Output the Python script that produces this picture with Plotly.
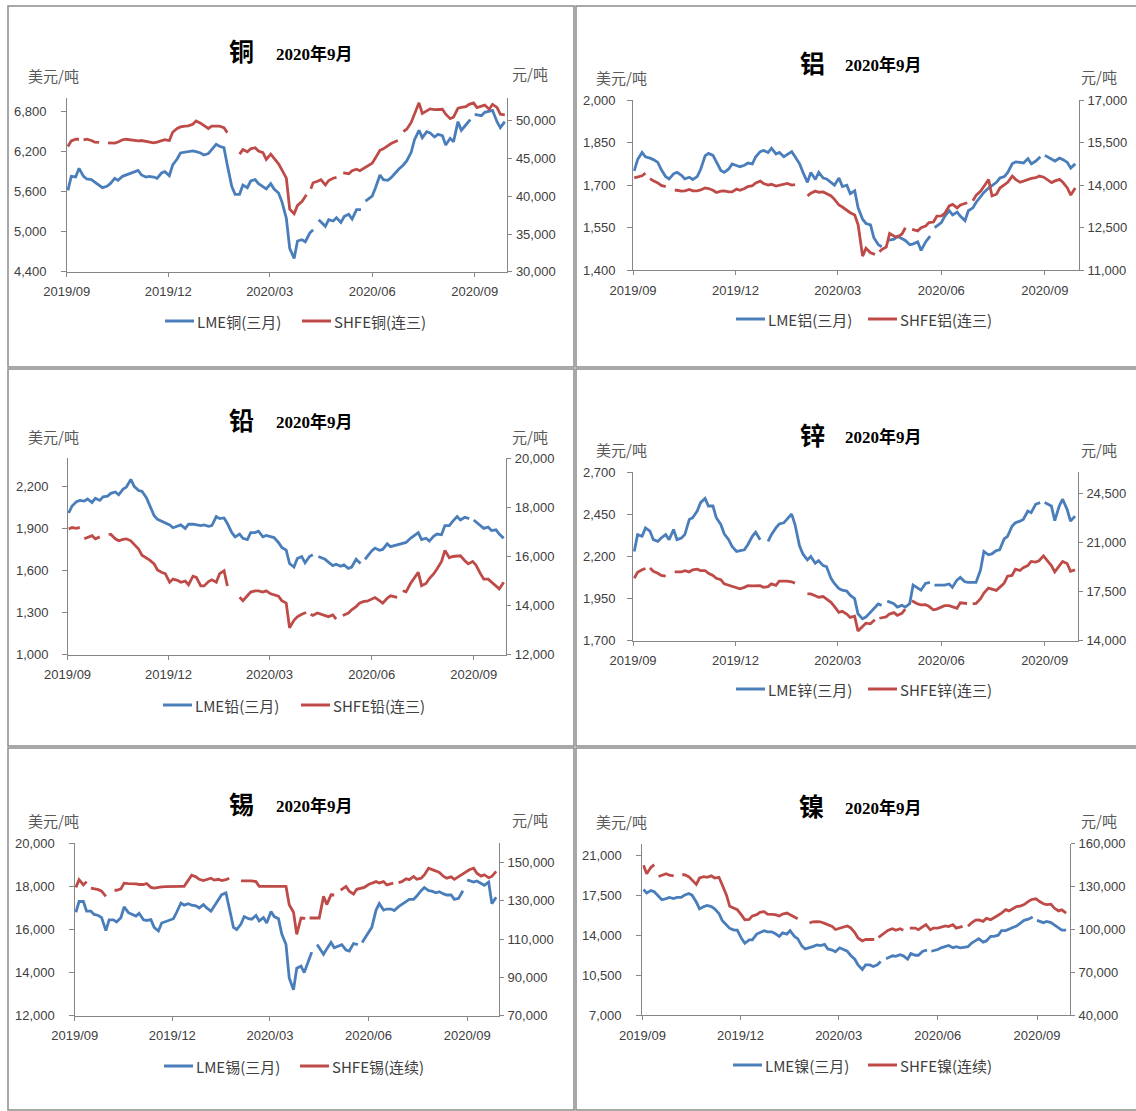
import plotly.graph_objects as go

W, H = 1136, 1111
N = None


def month(y, m, days):
    return [f"{y}-{m:02d}-{d:02d}" for d in days]


# ---------------- categories (twice-weekly sampling dates, holidays shown as gaps) ----------------
COMMON_NOV_MAR = (
    month(2019, 11, (4, 7, 11, 14, 18, 21, 25, 28))
    + month(2019, 12, (2, 5, 9, 12, 16, 19, 23, 26, 30))
    + month(2020, 1, (2, 6, 9, 13, 16, 20, 23, 27, 30))
    + month(2020, 2, (3, 6, 10, 13, 17, 20, 24, 27))
    + month(2020, 3, (2, 5, 9, 12, 16, 19, 23, 26, 30))
)
LME_DATES = (
    month(2019, 9, (2, 5, 9, 12, 16, 19, 23, 26, 30))
    + month(2019, 10, (3, 7, 10, 14, 17, 21, 24, 28, 31))
    + COMMON_NOV_MAR
    + month(2020, 4, (2, 6, 9, 10, 14, 20, 23, 27, 30))
    + month(2020, 5, (4, 7, 11, 14, 18, 22, 25, 26))
    + month(2020, 6, (1, 4, 8, 11, 15, 18, 22, 25, 29))
    + month(2020, 7, (2, 6, 9, 13, 16, 20, 23, 27, 30))
    + month(2020, 8, (3, 6, 10, 13, 17, 20, 24, 28, 31))
    + month(2020, 9, (1, 7, 10, 14, 17, 21, 24, 28))
)
SHFE_DATES = (
    month(2019, 9, (2, 5, 9, 12, 13, 16, 19, 23, 26, 30))
    + month(2019, 10, (1, 8, 10, 14, 17, 21, 24, 28, 31))
    + COMMON_NOV_MAR
    + month(2020, 4, (3, 6, 7, 9, 13, 16, 20, 23, 27, 30))
    + month(2020, 5, (1, 6, 11, 14, 18, 21, 25, 28))
    + month(2020, 6, (1, 4, 8, 11, 15, 18, 24, 25, 29))
    + month(2020, 7, (2, 6, 9, 13, 16, 20, 23, 27, 30))
    + month(2020, 8, (3, 6, 10, 13, 17, 20, 24, 27, 31))
    + month(2020, 9, (3, 7, 10, 14, 17, 21, 24, 28))
)

TICK_DATES = ["2019-09-01", "2019-12-01", "2020-03-01", "2020-06-01", "2020-09-01"]
TICK_TEXT = ["2019/09", "2019/12", "2020/03", "2020/06", "2020/09"]

# ---------------- copper ----------------
CU_LME = [
    5620, 5830, 5820, 5950, 5830, 5790, 5780, 5740, 5700,
    5660, 5680, 5720, 5800, 5770, 5830, 5850, 5880, 5890,
    5920, 5850, 5820, 5830, 5820, 5800, 5880, 5900,
    5840, 6000, 6090, 6180, 6190, 6200, 6210, 6200, 6180,
    6150, 6170, 6230, 6310, 6280, 6260, 6000, 5680, 5560,
    5560, 5700, 5660, 5760, 5780, 5720, 5680, 5640,
    5720, 5640, 5580, 5450, 5200, 4750, 4600, 4860, 4880,
    4850, 4980, 5030, N, 5180, 5080, 5180, 5160, 5210,
    5140, 5230, 5260, 5190, 5330, 5330, N, 5460,
    5535, 5660, 5850, 5780, 5770, 5810, 5890, 5940, 6000,
    6060, 6190, 6380, 6520, 6410, 6500, 6480, 6420, 6460,
    6440, 6300, 6400, 6350, 6650, 6520, 6600, 6680, N,
    6760, 6740, 6790, 6810, 6820, 6650, 6560, 6650,
]
CU_SHFE = [
    46600, 47350, 47570, 47570, N, 47500, 47570, 47400, 47200, 47150,
    N, 47100, 47100, 47050, 47200, 47500, 47570, 47500, 47400,
    47350, 47400, 47300, 47150, 47100, 47200, 47350, 47500,
    47400, 48500, 49000, 49200, 49300, 49350, 49560, 50000, 49700,
    49400, 49000, 49300, 49300, 49300, 49100, 48450, N, N,
    45600, 46200, 45900, 46300, 46450, 46000, 45800, 44900,
    45600, 45100, 44300, 43500, 42400, 38300, 37700, 38800, 39300,
    40200, N, 41000, 41800, 42000, 42200, 41500, 42100, 42400, 42500,
    N, 43100, 43000, 43400, 43600, 43400, 43800, 44000,
    44400, 45100, 46100, 46300, 46700, 47000, 47400, N, 48600,
    48900, 49800, 51000, 52400, 51000, 51300, 51600, 51500, 51500,
    51550, 50890, 50300, 50500, 51700, 51800, 51900, 52200, 52400,
    51770, 52000, 52100, 51550, 52200, 51800, 50890, 50800,
]

# ---------------- aluminium ----------------
AL_LME = [
    1750, 1790, 1815, 1800, 1795, 1790, 1780, 1755, 1730,
    1722, 1740, 1745, 1735, 1722, 1728, 1720, 1730, 1755,
    1803, 1812, 1805, 1780, 1752, 1745, 1757, 1775,
    1770, 1765, 1770, 1778, 1775, 1800, 1818, 1822, 1815,
    1830, 1810, 1815, 1800, 1808, 1818, 1800, 1775, 1745,
    1710, 1745, 1720, 1745, 1725, 1722, 1710, 1700,
    1725, 1695, 1700, 1670, 1680, 1620, 1580, 1565, 1560,
    1515, 1490, 1483, N, 1505, 1510, 1520, 1510, 1505,
    1490, 1493, 1500, 1470, 1500, 1520, N, 1550,
    1568, 1590, 1610, 1595, 1605, 1590, 1575, 1610, 1620,
    1640, 1660, 1675, 1690, 1700, 1710, 1725, 1730, 1745,
    1775, 1782, 1780, 1778, 1793, 1775, 1785, 1800, N,
    1805, 1790, 1785, 1795, 1790, 1780, 1760, 1775,
]
AL_SHFE = [
    14260, 14300, 14330, 14420, N, 14230, 14150, 14080, 13990, 13950,
    N, 13820, 13820, 13790, 13800, 13850, 13800, 13800, 13830,
    13900, 13880, 13820, 13740, 13790, 13800, 13760, 13760,
    13860, 13820, 13880, 13950, 13980, 14080, 14140, 14060, 14000,
    14030, 13970, 14000, 14020, 14060, 14000, 14020, N, N,
    13620, 13720, 13790, 13750, 13760, 13700, 13620, 13500,
    13300, 13230, 13100, 13030, 12950, 12600, 11500, 11780, 11620,
    11560, N, 11650, 11730, 11820, 12300, 12200, 12170, 12280, 12500,
    N, 12440, 12390, 12500, 12560, 12680, 12700, 12910,
    12920, 13000, 13270, 13320, 13200, 13300, 13380, N, 13450,
    13650, 13790, 13950, 14200, 13620, 13680, 13900, 14030, 14100,
    14320, 14205, 14100, 14150, 14205, 14240, 14264, 14320, 14280,
    14200, 14090, 14150, 14205, 14100, 13900, 13650, 13900,
]

# ---------------- lead ----------------
PB_LME = [
    2010, 2060, 2090, 2100, 2095, 2110, 2085, 2115, 2100,
    2125, 2130, 2150, 2160, 2140, 2180, 2195, 2250, 2200,
    2170, 2165, 2120, 2060, 1990, 1965, 1950, 1935,
    1925, 1905, 1915, 1925, 1900, 1930, 1930, 1925, 1920,
    1925, 1915, 1920, 1985, 1970, 1975, 1935, 1870, 1840,
    1860, 1830, 1820, 1870, 1870, 1880, 1840, 1850,
    1840, 1835, 1800, 1765, 1745, 1650, 1625, 1685, 1700,
    1655, 1700, 1712, N, 1700, 1680, 1660, 1635, 1645,
    1630, 1640, 1615, 1625, 1680, 1650, N, 1680,
    1740, 1760, 1745, 1750, 1790, 1770, 1780, 1785, 1795,
    1800, 1830, 1845, 1870, 1820, 1830, 1810, 1845, 1860,
    1855, 1920, 1920, 1950, 1985, 1960, 1980, 1970, N,
    1960, 1920, 1900, 1910, 1885, 1890, 1860, 1830,
]
PB_SHFE = [
    17120, 17180, 17150, 17190, N, 16720, 16780, 16850, 16720, 16800,
    N, 16900, 16900, 16720, 16640, 16700, 16720, 16640, 16500,
    16300, 16050, 15950, 15850, 15700, 15450, 15350, 15300,
    14950, 15080, 15030, 14950, 15000, 14850, 15200, 15150, 14800,
    14800, 14980, 15050, 14950, 15300, 15420, 14800, N, N,
    14340, 14200, 14400, 14550, 14600, 14600, 14550, 14600,
    14480, 14450, 14380, 14200, 14100, 13100, 13400, 13540, 13650,
    13720, N, 13650, 13600, 13700, 13650, 13600, 13550, 13620, 13450,
    N, 13600, 13700, 13830, 13960, 14100, 14170, 14180,
    14250, 14330, 14200, 14100, 14300, 14400, 14336, N, 14607,
    14560, 14900, 15100, 15354, 14811, 14900, 15100, 15300, 15500,
    15800, 16250, 15950, 16000, 16030, 16030, 15830, 15700, 15800,
    15650, 15300, 15080, 15080, 14950, 14800, 14680, 14950,
]

# ---------------- zinc ----------------
ZN_LME = [
    2230, 2330, 2320, 2370, 2350, 2300, 2290, 2310, 2330,
    2300, 2360, 2300, 2310, 2330, 2420, 2430, 2470, 2520,
    2545, 2500, 2500, 2430, 2390, 2335, 2300, 2260,
    2230, 2235, 2240, 2270, 2320, 2344, 2300, N, 2290,
    2330, 2370, 2393, 2400, 2420, 2452, 2390, 2264, 2215,
    2180, 2200, 2160, 2175, 2146, 2140, 2070, 2040,
    2010, 2000, 1995, 1970, 1950, 1860, 1830, 1840, 1870,
    1890, 1918, 1910, N, 1935, 1920, 1900, 1910, 1900,
    1920, 2030, 2010, 2000, 2040, 2046, N, 2030,
    2027, 2030, 2037, 2017, 2060, 2076, 2050, 2046, 2046,
    2046, 2120, 2230, 2210, 2215, 2235, 2240, 2304, 2320,
    2380, 2400, 2410, 2420, 2470, 2460, 2510, 2520, N,
    2520, 2500, 2413, 2500, 2540, 2480, 2410, 2440,
]
ZN_SHFE = [
    18450, 18870, 19050, 19150, N, 19180, 18950, 18800, 18650, 18600,
    N, 18900, 18900, 18900, 18990, 18900, 19050, 19100, 19000,
    19000, 18800, 18650, 18450, 18350, 18050, 17950, 17850,
    17800, 17700, 17800, 17920, 17900, 17900, 17920, 17800, 17850,
    18050, 17950, 18250, 18280, 18250, 18200, 18100, N, N,
    17330, 17330, 17200, 17100, 17150, 16950, 16730, 16450,
    16020, 16100, 15900, 15660, 15750, 14700, 15000, 15250, 15200,
    15500, N, 15600, 15650, 15700, 15900, 16000, 15800, 15950, 16250,
    N, 16850, 16620, 16550, 16560, 16450, 16200, 16250,
    16380, 16500, 16500, 16400, 16300, 16700, 16650, N, 16620,
    16650, 17000, 17400, 17750, 17680, 17580, 17800, 18100, 18600,
    18650, 19100, 19000, 19200, 19350, 19650, 19600, 19700, 20050,
    19750, 19350, 18900, 19300, 19650, 19500, 18950, 19050,
]

# ---------------- tin ----------------
SN_LME = [
    16800, 17300, 17300, 16850, 16850, 16700, 16650, 16550, 15950,
    16450, 16450, 16350, 16550, 17050, 16780, 16700, 16620, 16750,
    16450, 16420, 16460, 16100, 15930, 16300, 16380, 16450,
    16500, 16800, 17230, 17130, 17200, 17130, 17100, 17000, 17150,
    17000, 16850, 17080, 17380, 17616, 17700, 17000, 16100, 16000,
    16250, 16600, 16500, 16480, 16650, 16400, 16550, 16300,
    16830, 16600, 16500, 15800, 15300, 13750, 13200, 14200, 14300,
    14000, 14600, 14950, N, 15300, 14850, 15100, 15400, 15150,
    15250, 15300, 15050, 15000, 15350, 15300, N, 15400,
    15900, 16100, 16900, 17200, 16900, 16950, 16950, 16880, 17060,
    17150, 17300, 17400, 17400, 17550, 17800, 17950, 17800, 17780,
    17700, 17750, 17650, 17600, 17600, 17400, 17450, 17800, N,
    18300, 18200, 18250, 18150, 18050, 18200, 17200, 17500,
]
SN_SHFE = [
    137000, 141000, 138300, 140000, N, 136600, 136300, 135800, 135000, 132300,
    N, 135500, 135500, 136200, 139200, 139000, 139000, 138800, 138500,
    138500, 139000, 137000, 136600, 137200, 137300, 137400, 137500,
    137500, 137500, 137500, 137500, 141000, 143300, 142500, 141200, 140500,
    141000, 141800, 140800, 141200, 140500, 141000, 141800, N, N,
    140400, 140400, 140400, 140400, 140000, 137500, 137500, 137500,
    137500, 137500, 137500, 137500, 137500, 127900, 124000, 112500, 121000,
    120800, N, 121000, 121000, 121000, 121000, 132300, 128000, 133100, 133000,
    N, 135500, 137500, 135000, 133500, 136000, 136600, 137000,
    138500, 139200, 140000, 139300, 140000, 138300, 139200, N, 139500,
    140000, 141500, 141000, 142700, 141200, 141800, 143500, 147000, 146200,
    145500, 144800, 142700, 141800, 142500, 141200, 142700, 143800, 145300,
    146200, 147000, 144400, 142900, 143600, 142000, 142700, 145300,
]

# ---------------- nickel ----------------
NI_LME = [
    18000, 17700, 17900, 17800, 17400, 17100, 17200, 17300, 17200,
    17300, 17300, 17500, 17650, 17500, 16900, 16300, 16500, 16600,
    16500, 16300, 15900, 15300, 14900, 14600, 14450, 14450,
    13700, 13300, 13600, 13600, 14100, 14200, 14400, 14300, 14300,
    14150, 13900, 14200, 14100, 14400, 13900, 13700, 13050, 12800,
    12900, 13000, 13150, 13100, 13200, 12800, 12700, 12550,
    12900, 12800, 12600, 12250, 11900, 11400, 11000, 11400, 11400,
    11270, 11420, 11700, N, 11950, 12200, 12150, 12300, 12200,
    11900, 12400, 12250, 12250, 12600, 12700, N, 12600,
    12750, 12900, 13000, 13100, 12900, 13000, 12900, 12950, 13000,
    13300, 13550, 13700, 13400, 13500, 13900, 13900, 14000, 14400,
    14400, 14550, 14700, 14800, 15050, 15300, 15400, 15600, N,
    15300, 15100, 15200, 15100, 14900, 14600, 14450, 14450,
]
NI_SHFE = [
    145000, 139000, 143500, 145300, N, 137100, 138000, 139000, 138000, 137500,
    N, 138300, 138300, 137000, 134500, 131500, 136000, 137000, 136500,
    137500, 136000, 136500, 131300, 124000, 116200, 115000, 113900,
    110000, 106800, 107000, 109500, 110400, 112000, 112500, 110800, 110600,
    110400, 109500, 110800, 111500, 110300, 109200, 107500, N, N,
    104500, 105400, 105500, 105400, 104300, 103300, 102200, 100000,
    101000, 101500, 102500, 101300, 97900, 94100, 92000, 93000, 93000,
    93000, N, 94500, 95500, 97900, 99500, 100500, 99500, 100500, 99500,
    N, 101000, 101000, 99900, 102000, 103400, 99800, 101000,
    101000, 101800, 102500, 102000, 103400, 101000, 102200, N, 102200,
    104500, 106500, 106700, 105700, 107800, 106900, 108500, 110000, 111500,
    113900, 113000, 115000, 116000, 116500, 117400, 119700, 121000, 121500,
    119700, 118000, 117400, 117700, 115000, 113000, 113800, 111500,
]

METALS = ["铜", "铝", "铅", "锌", "锡", "镍"]
LME_NAMES = ["LME铜(三月)", "LME铝(三月)", "LME铅(三月)", "LME锌(三月)", "LME锡(三月)", "LME镍(三月)"]
SHFE_NAMES = ["SHFE铜(连三)", "SHFE铝(连三)", "SHFE铅(连三)", "SHFE锌(连三)", "SHFE锡(连续)", "SHFE镍(连续)"]
LME_SERIES = [CU_LME, AL_LME, PB_LME, ZN_LME, SN_LME, NI_LME]
SHFE_SERIES = [CU_SHFE, AL_SHFE, PB_SHFE, ZN_SHFE, SN_SHFE, NI_SHFE]

# left axis (min, max, step) / right axis (min, max, step)
LEFT_AX = [(4400, 7000, 600), (1400, 2000, 150), (1000, 2400, 300),
           (1700, 2700, 250), (12000, 20000, 2000), (7000, 22000, 3500)]
RIGHT_AX = [(30000, 53000, 5000), (11000, 17000, 1500), (12000, 20000, 2000),
            (14000, 26000, 3500), (70000, 160000, 20000), (40000, 160000, 30000)]

# ---------------- layout geometry (pixels) ----------------
PLOT_X = [(66.8, 507.3), (633.1, 1078.9), (67.6, 506.2), (633.1, 1077.8), (74.8, 499.0), (642.4, 1069.9)]
PLOT_Y = [(98.3, 271.7), (100.0, 270.3), (458.3, 654.7), (472.3, 640.7), (843.3, 1015.7), (843.7, 1015.3)]
LEFT_LABEL_GAP = [18, 15, 17, 15, 18, 18]
X_END = ["2020-09-30 06:00", "2020-10-01 06:00", "2020-09-30 06:00",
         "2020-09-30 12:00", "2020-09-30 16:00", "2020-10-01 12:00"]
BOXES = [(8, 6, 574, 367), (576, 6, 1140, 367), (8, 369, 574, 746),
         (576, 369, 1140, 746), (8, 748, 574, 1110), (576, 748, 1140, 1110)]
TITLE_POS = [(241, 50, 274, 54), (812, 62, 843, 65), (241, 419, 274, 422),
             (812, 434, 843, 437), (241, 803, 274, 806), (811, 805, 843, 808)]
UNIT_L = [(26, 75), (594, 78), (26, 437), (594, 449), (26, 820), (594, 821)]
UNIT_R = [(510, 74), (1079, 76), (510, 436), (1079, 449), (510, 819), (1079, 820)]
LEG = [(165, 302, 321), (736, 868, 319), (163, 301, 705), (736, 868, 689), (164, 300, 1066), (733, 868, 1065)]

BLUE = "#4a7ebb"
RED = "#be4b48"
AXC = "#868686"
TXT = "#404040"
TICKFONT = dict(family="Liberation Sans, Arial, sans-serif", size=13, color=TXT)
CJK = "Noto Sans CJK SC, sans-serif"


def X(px):
    return px / W


def Y(py):
    return 1 - py / H


def ticks(lo, hi, step):
    out, v = [], lo
    while v <= hi + 1e-9:
        out.append(v)
        v += step
    return out


fig = go.Figure()
layout = dict(
    width=W, height=H, margin=dict(l=0, r=0, t=0, b=0, pad=0, autoexpand=False),
    paper_bgcolor="white", plot_bgcolor="white", showlegend=False,
)
shapes, annotations = [], []

for i in range(6):
    xa = "x" if i == 0 else f"x{i + 1}"
    xkey = "xaxis" if i == 0 else f"xaxis{i + 1}"
    yl_n, yr_n = 2 * i + 1, 2 * i + 2
    yl = "y" if yl_n == 1 else f"y{yl_n}"
    ylkey = "yaxis" if yl_n == 1 else f"yaxis{yl_n}"
    yr = f"y{yr_n}"
    yrkey = f"yaxis{yr_n}"

    fig.add_trace(go.Scatter(x=LME_DATES, y=LME_SERIES[i], xaxis=xa, yaxis=yl, mode="lines",
                             line=dict(color=BLUE, width=2.8), connectgaps=False,
                             name=LME_NAMES[i], hoverinfo="skip"))
    fig.add_trace(go.Scatter(x=SHFE_DATES, y=SHFE_SERIES[i], xaxis=xa, yaxis=yr, mode="lines",
                             line=dict(color=RED, width=2.8), connectgaps=False,
                             name=SHFE_NAMES[i], hoverinfo="skip"))

    px0, px1 = PLOT_X[i]
    py0, py1 = PLOT_Y[i]
    ydom = [Y(py1), Y(py0)]
    layout[xkey] = dict(
        domain=[X(px0), X(px1)], anchor=yl, type="date",
        range=["2019-09-01", X_END[i]], tickvals=TICK_DATES, ticktext=TICK_TEXT,
        showline=True, linecolor=AXC, linewidth=1, ticks="outside", ticklen=4,
        tickcolor=AXC, showgrid=False, zeroline=False, tickfont=TICKFONT,
        ticklabelstandoff=4, automargin=False,
    )
    lo, hi, st = LEFT_AX[i]
    lvals = ticks(lo, hi, st)
    layout[ylkey] = dict(
        domain=ydom, anchor=xa, range=[lo, hi], tickvals=lvals,
        showticklabels=False, showline=True, linecolor=AXC, linewidth=1,
        ticks="outside", ticklen=5, tickcolor=AXC, showgrid=False, zeroline=False,
        side="left", automargin=False,
    )
    # left tick labels, placed on the left axis scale (Excel-style wider gap)
    for v in lvals:
        annotations.append(dict(xref="paper", yref=yl, x=X(px0 - LEFT_LABEL_GAP[i]), y=v,
                                text=f"{v:,}", showarrow=False, xanchor="right", yanchor="middle",
                                font=TICKFONT))
    lo, hi, st = RIGHT_AX[i]
    layout[yrkey] = dict(
        domain=ydom, anchor=xa, overlaying=yl, side="right", range=[lo, hi],
        tickvals=ticks(lo, hi, st), tickformat=",d", showline=True, linecolor=AXC,
        linewidth=1, ticks="outside", ticklen=4, tickcolor=AXC, showgrid=False,
        zeroline=False, tickfont=TICKFONT, ticklabelstandoff=1, automargin=False,
    )

    # panel border
    bx0, by0, bx1, by1 = BOXES[i]
    shapes.append(dict(type="rect", xref="paper", yref="paper", x0=X(bx0), x1=X(bx1),
                       y0=Y(by1), y1=Y(by0), line=dict(color="#8c8c8c", width=1.5)))

    # titles
    tx, ty, sx, sy = TITLE_POS[i]
    annotations.append(dict(xref="paper", yref="paper", x=X(tx), y=Y(ty), text=f"<b>{METALS[i]}</b>",
                            showarrow=False, xanchor="center", yanchor="middle",
                            font=dict(family=CJK, size=25, color="black")))
    annotations.append(dict(xref="paper", yref="paper", x=X(sx), y=Y(sy), text="<b>2020年9月</b>",
                            showarrow=False, xanchor="left", yanchor="middle",
                            font=dict(family="Liberation Serif, Noto Sans CJK SC, serif", size=17, color="black")))
    # units
    ux, uy = UNIT_L[i]
    annotations.append(dict(xref="paper", yref="paper", x=X(ux), y=Y(uy), text="美元/吨",
                            showarrow=False, xanchor="left", yanchor="middle",
                            font=dict(family=CJK, size=15, color="#595959")))
    ux, uy = UNIT_R[i]
    annotations.append(dict(xref="paper", yref="paper", x=X(ux), y=Y(uy), text="元/吨",
                            showarrow=False, xanchor="left", yanchor="middle",
                            font=dict(family=CJK, size=15, color="#595959")))
    # legend
    lb, lr, ly = LEG[i]
    for x0, col, name in ((lb, BLUE, LME_NAMES[i]), (lr, RED, SHFE_NAMES[i])):
        shapes.append(dict(type="line", xref="paper", yref="paper", x0=X(x0), x1=X(x0 + 29),
                           y0=Y(ly), y1=Y(ly), line=dict(color=col, width=3)))
        annotations.append(dict(xref="paper", yref="paper", x=X(x0 + 30), y=Y(ly), text=name,
                                showarrow=False, xanchor="left", yanchor="middle",
                                font=dict(family=CJK, size=15, color=TXT)))

layout["shapes"] = shapes
layout["annotations"] = annotations
fig.update_layout(**layout)
fig.write_html("out.html")
